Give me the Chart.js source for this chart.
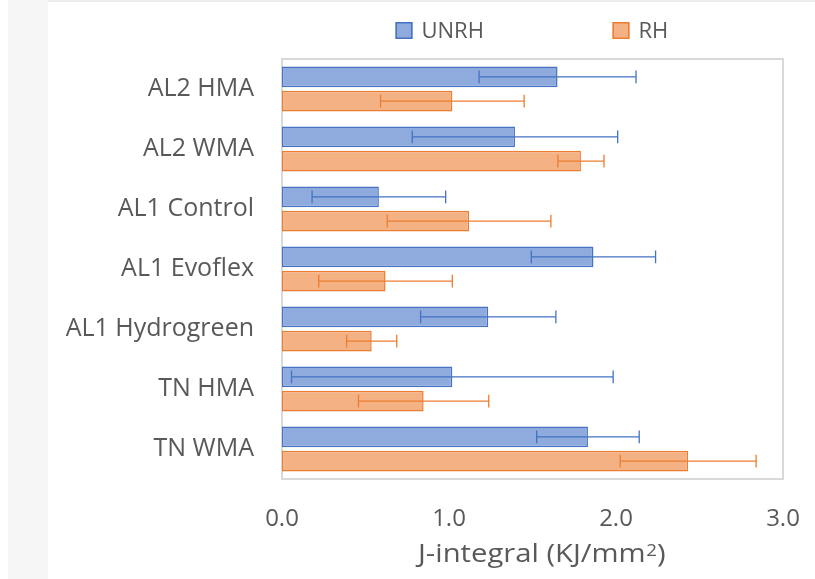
<!DOCTYPE html>
<html>
<head>
<meta charset="utf-8">
<script src="https://cdn.jsdelivr.net/npm/chart.js@4.4.1/dist/chart.umd.min.js"></script>
<style>
  html, body { margin: 0; padding: 0; background: #fff; }
  #wrap { position: relative; width: 815px; height: 579px; overflow: hidden; }
  #strip { position: absolute; left: 8px; top: 0; width: 40px; height: 579px; background: #f6f6f6; }
  #topline { position: absolute; left: 48px; top: 0; width: 767px; height: 2px; background: #ececec; }
  canvas { position: absolute; left: 0; top: 0; }
</style>
</head>
<body>
<div id="wrap">
  <div id="strip"></div>
  <div id="topline"></div>
  <canvas id="chart" width="815" height="579"></canvas>
</div>
<script>
// Mixes and measured J-integral (KJ/mm²), mean and standard deviation
const categories = ['AL2 HMA', 'AL2 WMA', 'AL1 Control', 'AL1 Evoflex', 'AL1 Hydrogreen', 'TN HMA', 'TN WMA'];
const unrhValues = [1.65, 1.395, 0.58, 1.865, 1.235, 1.02, 1.832];
const unrhErrors = [0.47, 0.615, 0.40, 0.372, 0.405, 0.963, 0.307];
const rhValues   = [1.02, 1.79, 1.12, 0.62, 0.537, 0.848, 2.432];
const rhErrors   = [0.43, 0.138, 0.49, 0.40, 0.15, 0.39, 0.407];
const xTicks = [0, 1, 2, 3];

const seriesNames = ['UNRH', 'RH'];
const errorSets = [unrhErrors, rhErrors];
const xTitleParts = ['J-integral (KJ/mm', '2', ')'];

const FONT = "'Open Sans', 'Noto Sans', sans-serif";
const TEXT = '#595959';

// Plot-area frame
const frame = {
  id: 'frame',
  beforeDatasetsDraw(chart) {
    const { ctx, chartArea: a } = chart;
    ctx.save();
    ctx.strokeStyle = '#d9d9d9';
    ctx.lineWidth = 2;
    ctx.strokeRect(a.left, a.top, a.right - a.left, a.bottom - a.top);
    ctx.restore();
  }
};

// Horizontal error bars (± standard deviation) with end caps
const errorBars = {
  id: 'errorBars',
  afterDatasetsDraw(chart) {
    const { ctx } = chart;
    const xs = chart.scales.x;
    chart.data.datasets.forEach((ds, di) => {
      const meta = chart.getDatasetMeta(di);
      const errs = errorSets[di];
      ctx.save();
      ctx.strokeStyle = ds.borderColor;
      ctx.lineWidth = 1.3;
      meta.data.forEach((bar, i) => {
        const v = ds.data[i];
        const e = errs[i];
        const x0 = xs.getPixelForValue(v - e);
        const x1 = xs.getPixelForValue(v + e);
        const y = bar.y;
        const h = 6.3;
        ctx.beginPath();
        ctx.moveTo(x0, y); ctx.lineTo(x1, y);
        ctx.moveTo(x0, y - h); ctx.lineTo(x0, y + h);
        ctx.moveTo(x1, y - h); ctx.lineTo(x1, y + h);
        ctx.stroke();
      });
      ctx.restore();
    });
  }
};

// Legend row above the plot, centred on the plot area
const topLegend = {
  id: 'topLegend',
  afterDraw(chart) {
    const { ctx, chartArea: a } = chart;
    const box = 17, gapText = 9, step = 217, cy = 30.5;
    ctx.save();
    ctx.font = `22px ${FONT}`;
    let x = (a.left + a.right) / 2 - 137;
    chart.data.datasets.forEach((ds, i) => {
      ctx.fillStyle = ds.backgroundColor;
      ctx.fillRect(x, cy - box / 2, box, box);
      ctx.strokeStyle = ds.borderColor;
      ctx.lineWidth = 1.5;
      ctx.strokeRect(x + 0.75, cy - box / 2 + 0.75, box - 1.5, box - 1.5);
      ctx.fillStyle = TEXT;
      ctx.textBaseline = 'middle';
      ctx.textAlign = 'left';
      ctx.fillText(seriesNames[i], x + box + gapText, cy + 1);
      x += step;
    });
    ctx.restore();
  }
};

// Value-axis title with a raised exponent
const axisTitle = {
  id: 'axisTitle',
  afterDraw(chart) {
    const { ctx, chartArea: a } = chart;
    const mainFont = `25px ${FONT}`, supFont = `16px ${FONT}`;
    ctx.save();
    ctx.font = mainFont;
    const w0 = ctx.measureText(xTitleParts[0]).width;
    const w2 = ctx.measureText(xTitleParts[2]).width;
    ctx.font = supFont;
    const w1 = ctx.measureText(xTitleParts[1]).width;
    const natural = w0 + w1 + w2;
    const width = 247;
    const cx = (a.left + a.right) / 2 + 9;
    ctx.translate(cx - width / 2, 561.5);
    ctx.scale(width / natural, 1);
    ctx.fillStyle = TEXT;
    ctx.textBaseline = 'alphabetic';
    ctx.textAlign = 'left';
    ctx.font = mainFont;
    ctx.fillText(xTitleParts[0], 0, 0);
    ctx.font = supFont;
    ctx.fillText(xTitleParts[1], w0 + 0.5, -6);
    ctx.font = mainFont;
    ctx.fillText(xTitleParts[2], w0 + w1 + 0.5, 0);
    ctx.restore();
  }
};

new Chart(document.getElementById('chart'), {
  type: 'bar',
  data: {
    labels: categories,
    datasets: [
      {
        label: seriesNames[0],
        data: unrhValues,
        backgroundColor: '#8faadc',
        borderColor: '#4472c4',
        borderWidth: 1.5,
        borderSkipped: false,
        categoryPercentage: 0.81,
        barPercentage: 0.85
      },
      {
        label: seriesNames[1],
        data: rhValues,
        backgroundColor: '#f4b183',
        borderColor: '#ed7d31',
        borderWidth: 1.5,
        borderSkipped: false,
        categoryPercentage: 0.81,
        barPercentage: 0.85
      }
    ]
  },
  options: {
    indexAxis: 'y',
    responsive: false,
    animation: false,
    devicePixelRatio: 1,
    layout: { padding: { top: 59, right: 32, bottom: 0, left: 0 } },
    plugins: {
      legend: { display: false },
      tooltip: { enabled: false }
    },
    scales: {
      x: {
        min: 0,
        max: 3,
        afterBuildTicks(scale) { scale.ticks = xTicks.map(v => ({ value: v })); },
        afterFit(scale) {
          scale.height = 100;
          scale.paddingLeft = 0;
          scale.paddingRight = 0;
        },
        grid: { display: false, drawTicks: false },
        border: { display: false },
        ticks: {
          padding: 26,
          color: TEXT,
          font: { family: FONT, size: 24 },
          callback: v => Number(v).toFixed(1)
        }
      },
      y: {
        afterFit(scale) {
          scale.width = 282;
          scale.paddingTop = 0;
          scale.paddingBottom = 0;
        },
        grid: { display: false, drawTicks: false },
        border: { display: false },
        ticks: {
          padding: 28,
          color: TEXT,
          font: { family: FONT, size: 25 }
        }
      }
    }
  },
  plugins: [frame, errorBars, topLegend, axisTitle]
});
</script>
</body>
</html>
